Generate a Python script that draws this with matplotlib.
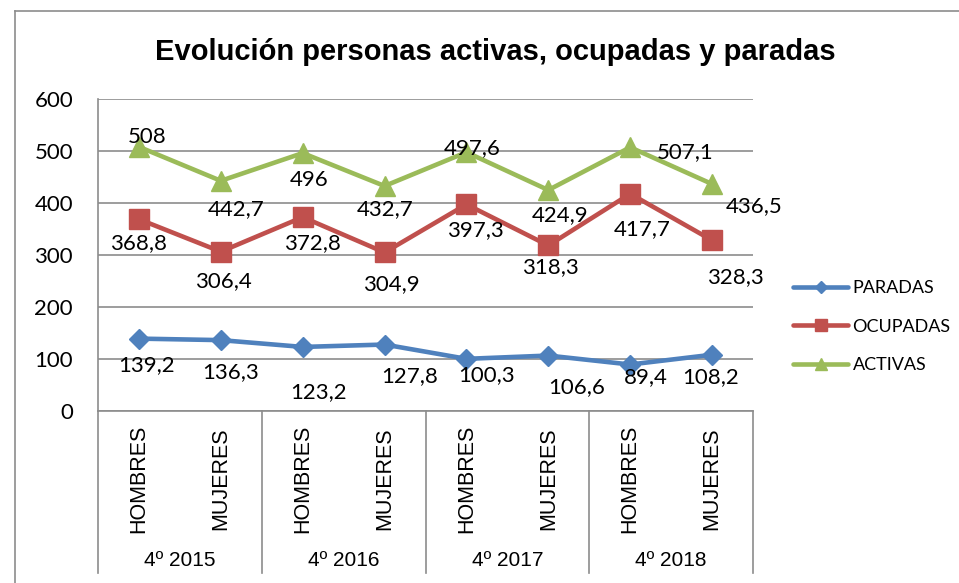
import numpy as np
import matplotlib
matplotlib.use("Agg")
import matplotlib.pyplot as plt
from matplotlib.lines import Line2D

# datos
sexos = ["HOMBRES", "MUJERES"] * 4
periodos = ["4º 2015", "4º 2016", "4º 2017", "4º 2018"]
paradas = [139.2, 136.3, 123.2, 127.8, 100.3, 106.6, 89.4, 108.2]
ocupadas = [368.8, 306.4, 372.8, 304.9, 397.3, 318.3, 417.7, 328.3]
activas = [508, 442.7, 496, 432.7, 497.6, 424.9, 507.1, 436.5]

# desplazamiento de etiquetas (px, y hacia abajo) tal como en la imagen
off_paradas = [(8, 24), (10, 30), (16, 43), (25, 30), (20, 14.5), (28, 30), (16, 10.5), (-1, 20)]
off_ocupadas = [(0, 21.6), (3, 27), (10, 24), (7, 30), (9, 24), (2, 19.5), (12, 33), (23, 35)]
off_activas = [(8.5, -12), (15, 26), (6, 25), (1, 21.5), (6, -6.4), (12, 23), (55, 3), (42, 20)]

AZUL, ROJO, VERDE = "#4F81BD", "#C0504D", "#9BBB59"
GRIS = "#8C8C8C"
NUM_FONT = "Lato"
CAT_FONT = "Liberation Sans"

W, H = 959, 583
fig = plt.figure(figsize=(W / 100, H / 100), dpi=100)
ax = fig.add_axes([98 / W, 1 - 411 / H, (753 - 98) / W, (411 - 99) / H])

x = np.arange(len(sexos))
series = [
    ("PARADAS", paradas, AZUL, "D", 10, off_paradas),
    ("OCUPADAS", ocupadas, ROJO, "s", 14.5, off_ocupadas),
    ("ACTIVAS", activas, VERDE, "^", 14.5, off_activas),
]
handles = []
for name, vals, col, mk, ms, offs in series:
    ax.plot(x, vals, color=col, lw=3.3, marker=mk, ms=ms, zorder=3,
            solid_joinstyle="round", solid_capstyle="round")
    for xi, v, (dx, dy) in zip(x, vals, offs):
        lab = f"{v:g}".replace(".", ",")
        ax.annotate(lab, (xi, v), xytext=(dx * 0.72, -(dy + 8) * 0.72),
                    textcoords="offset points", ha="center", va="baseline",
                    fontsize=16, family=NUM_FONT, color="black", zorder=4)
    handles.append(Line2D([], [], color=col, lw=3.3, marker=mk,
                          ms=ms * 0.6, solid_capstyle="round", label=name))

ax.set_xlim(-0.5, len(sexos) - 0.5)
ax.set_ylim(0, 600)
ax.set_yticks(range(0, 601, 100))
ax.set_xticks([])
ax.tick_params(axis="y", length=0, pad=18)
for t in ax.get_yticklabels():
    t.set_family(NUM_FONT)
    t.set_fontsize(16)
ax.grid(axis="y", color=GRIS, lw=1.2)
ax.set_axisbelow(True)
for s in ["top", "right"]:
    ax.spines[s].set_visible(False)
for s in ["left", "bottom"]:
    ax.spines[s].set_color(GRIS)
    ax.spines[s].set_linewidth(1.2)

# eje de categorías en dos niveles
tr = ax.get_xaxis_transform()
y_fondo = (411 - 573) / (411 - 99)
for xs in np.arange(-0.5, len(sexos), 2):
    ax.plot([xs, xs], [0, y_fondo], color=GRIS, lw=1.2, transform=tr,
            clip_on=False)
for xi, s in zip(x, sexos):
    ax.text(xi, (411 - 478.5) / 312, s, rotation=90, ha="center", va="center",
            transform=tr, fontsize=15.5, family=CAT_FONT)
for i, p in enumerate(periodos):
    ax.text(2 * i + 0.5, (411 - 560) / 312, p, ha="center", va="center",
            transform=tr, fontsize=15, family=CAT_FONT)

fig.text(495.5 / W, 1 - 60 / H, "Evolución personas activas, ocupadas y paradas",
         ha="center", va="baseline", fontsize=21, fontweight="bold",
         family=CAT_FONT)

fig.legend(handles=handles, loc="center left",
           bbox_to_anchor=(793 / W, 1 - 326.5 / H), frameon=False,
           prop={"family": NUM_FONT, "size": 13}, handlelength=3.05,
           handletextpad=0.25, labelspacing=1.25, borderpad=0,
           borderaxespad=0)

# borde exterior del gráfico (recortado a la derecha y abajo)
fig.add_artist(Line2D([15 / W, 15 / W], [0, 1 - 11 / H], color=GRIS, lw=1.2))
fig.add_artist(Line2D([15 / W, 1], [1 - 11 / H, 1 - 11 / H], color=GRIS, lw=1.2))

fig.savefig("out.png", dpi=100)
